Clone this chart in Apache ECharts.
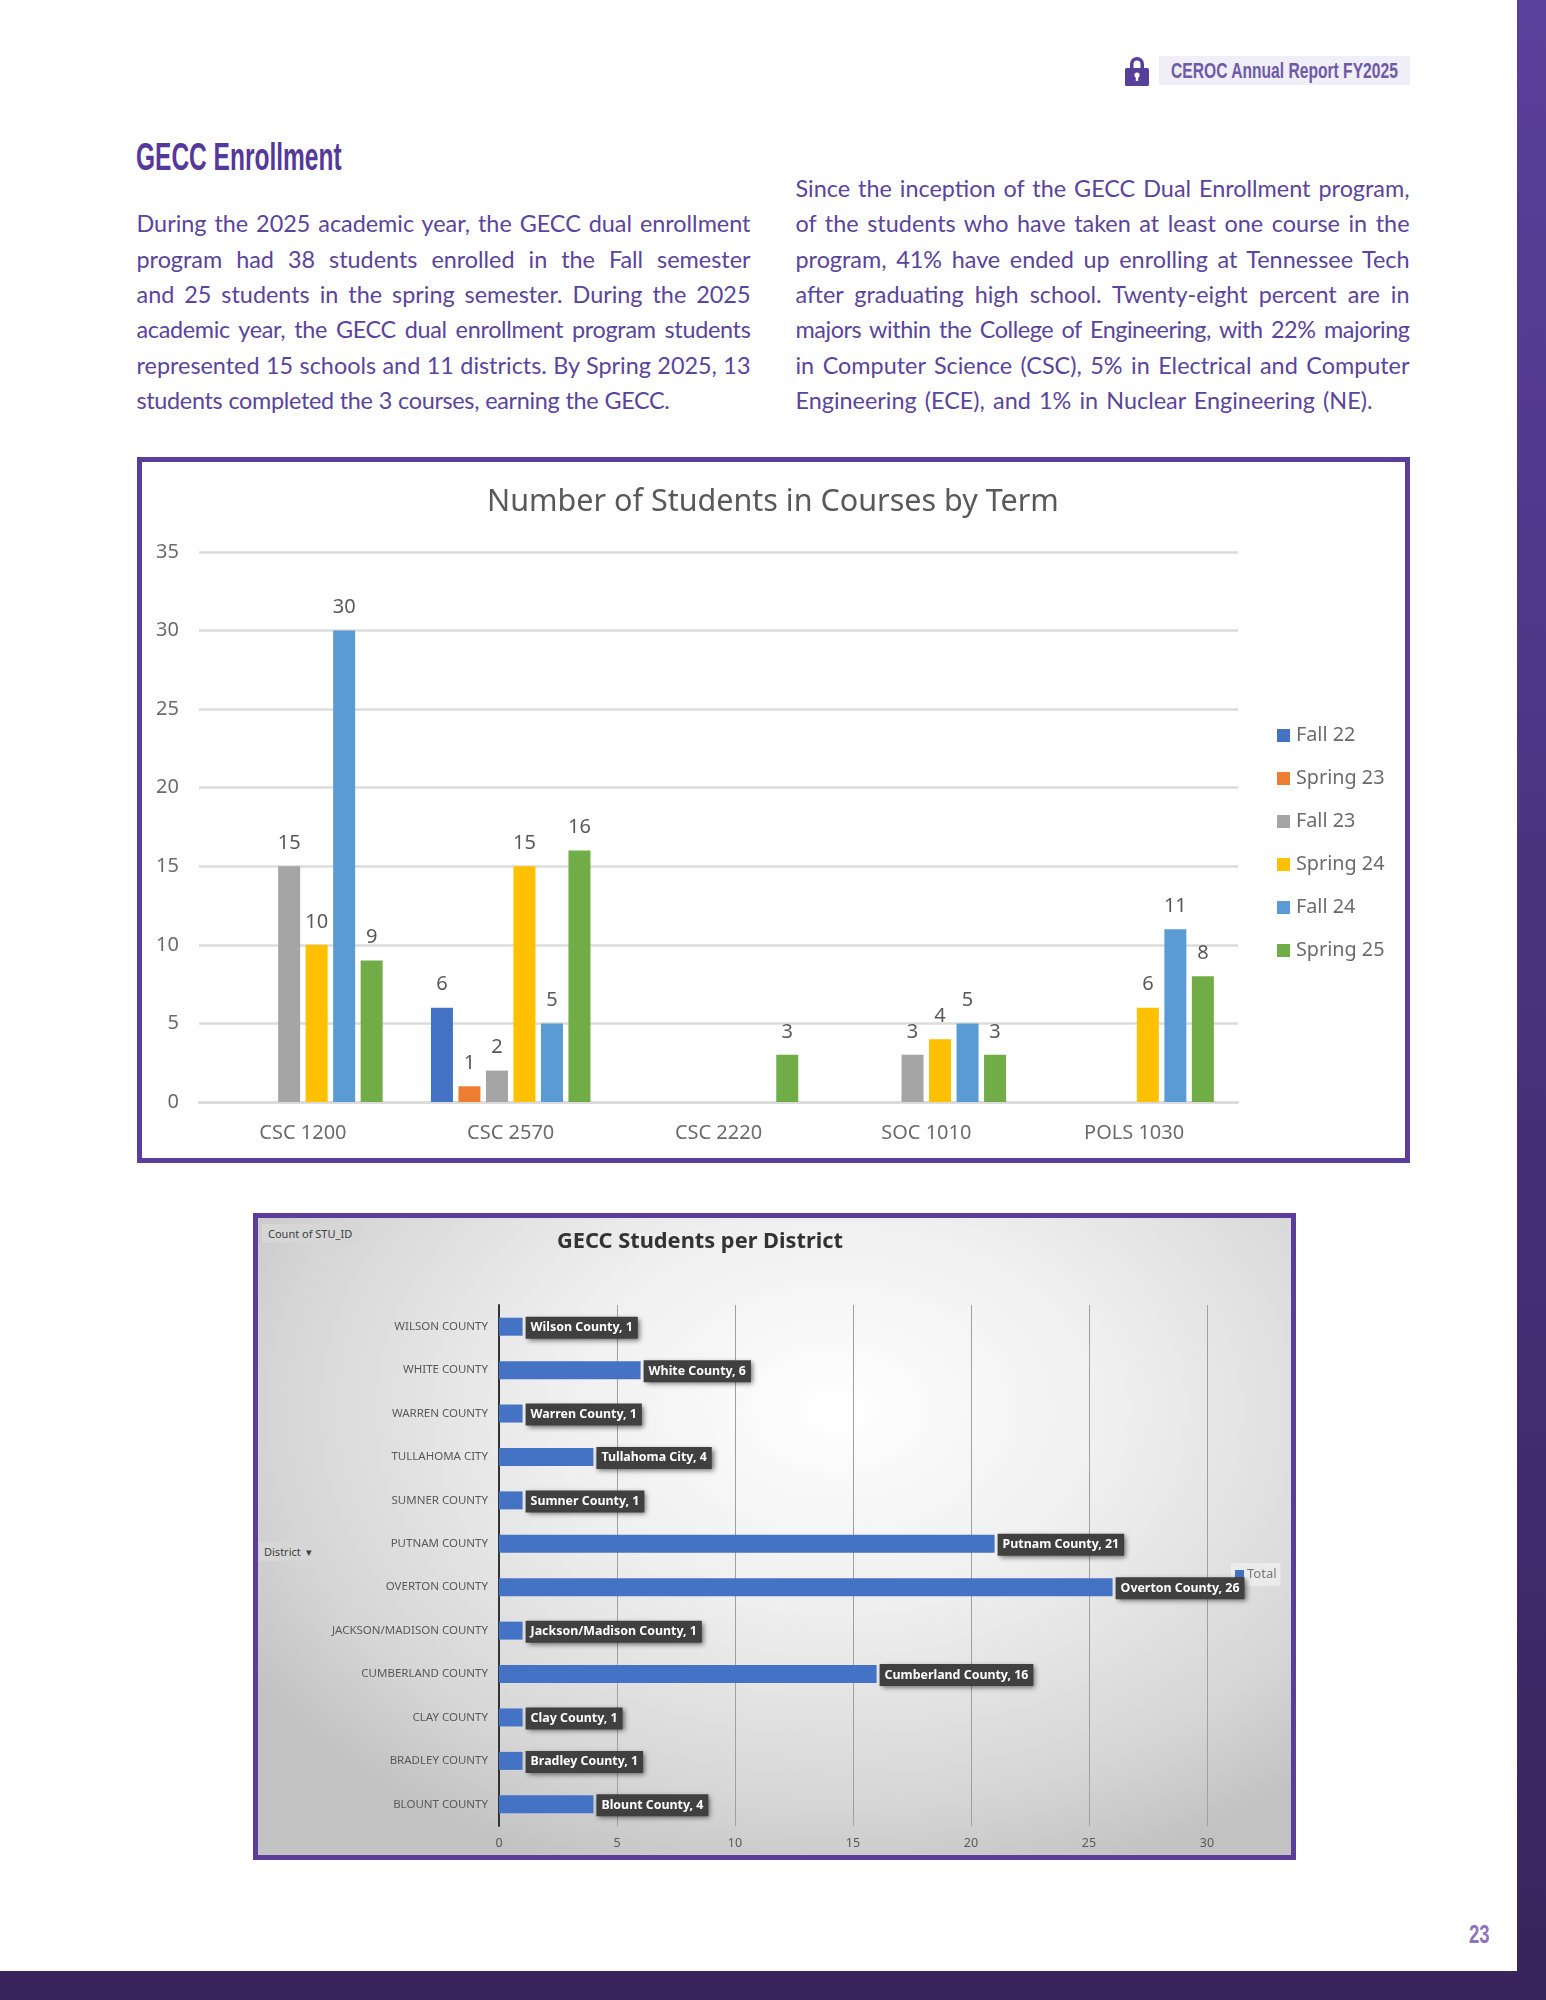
<!DOCTYPE html>
<html><head><meta charset="utf-8">
<script src="https://cdn.jsdelivr.net/npm/echarts@6/dist/echarts.min.js"></script>
<style>
html,body{margin:0;padding:0;background:#fff;}
#page{position:relative;width:1546px;height:2000px;overflow:hidden;background:#fff;color:#56409a;font-family:"Noto Sans",sans-serif;}
#page div{position:absolute;box-sizing:border-box;}
.cond{font-family:"Liberation Sans",sans-serif;font-weight:700;white-space:nowrap;transform-origin:0 50%;}
.line{font-family:Lato,sans-serif;font-size:23.4px;line-height:35.4px;height:35.4px;text-align:justify;text-align-last:justify;white-space:normal;color:#5a449c;}
#chart{position:absolute;left:0;top:0;width:1546px;height:2000px;}
.btn{font-family:"Noto Sans",sans-serif;font-size:11px;color:#404040;background:#d6d6d6;line-height:19px;}
</style></head><body>
<div id="page">
  <div style="left:1517px;top:0;width:29px;height:1971px;background:linear-gradient(180deg,#5b3f9c 0%,#39245d 100%);"></div>
  <div style="left:0;top:1971px;width:1546px;height:29px;background:#39245d;"></div>
  <svg style="position:absolute;left:1124px;top:55px" width="26" height="32" viewBox="0 0 26 32"><path d="M6 14V9a7 7 0 0 1 14 0v5h-3.5V9a3.5 3.5 0 0 0-7 0v5z" fill="#56409a"/><rect x="1" y="13" width="24" height="18" rx="1.5" fill="#56409a"/><circle cx="13" cy="20" r="2.6" fill="#fff"/><rect x="11.8" y="20" width="2.4" height="6" fill="#fff"/></svg>
  <div style="left:1159px;top:56px;width:251px;height:29px;background:#f0eef7;"></div>
  <div class="cond" style="left:1171px;top:56px;height:29px;line-height:29px;font-size:22px;color:#6f5aa8;transform:scaleX(.71);">CEROC Annual Report FY2025</div>
  <div class="cond" style="left:136px;top:135px;height:44px;line-height:44px;font-size:38px;color:#54389a;transform:scaleX(.645);">GECC Enrollment</div>
  <div class="line" style="left:136.5px;top:206px;width:614px;">During the 2025 academic year, the GECC dual enrollment</div>
  <div class="line" style="left:136.5px;top:241.5px;width:614px;">program had 38 students enrolled in the Fall semester</div>
  <div class="line" style="left:136.5px;top:277px;width:614px;">and 25 students in the spring semester. During the 2025</div>
  <div class="line" style="left:136.5px;top:312px;width:614px;letter-spacing:-.3px;">academic year, the GECC dual enrollment program students</div>
  <div class="line" style="left:136.5px;top:347.5px;width:614px;">represented 15 schools and 11 districts. By Spring 2025, 13</div>
  <div class="line" style="left:136.5px;top:383px;width:533px;letter-spacing:-.32px;">students completed the 3 courses, earning the GECC.</div>
  <div class="line" style="left:795.5px;top:171px;width:614px;">Since the inception of the GECC Dual Enrollment program,</div>
  <div class="line" style="left:795.5px;top:206px;width:614px;">of the students who have taken at least one course in the</div>
  <div class="line" style="left:795.5px;top:241.5px;width:614px;">program, 41% have ended up enrolling at Tennessee Tech</div>
  <div class="line" style="left:795.5px;top:277px;width:614px;">after graduating high school. Twenty-eight percent are in</div>
  <div class="line" style="left:795.5px;top:312px;width:614px;letter-spacing:-.45px;">majors within the College of Engineering, with 22% majoring</div>
  <div class="line" style="left:795.5px;top:347.5px;width:614px;">in Computer Science (CSC), 5% in Electrical and Computer</div>
  <div class="line" style="left:795.5px;top:383px;width:577px;">Engineering (ECE), and 1% in Nuclear Engineering (NE).</div>
  <div style="left:136.5px;top:457px;width:1273px;height:706px;border:5px solid #5b3e9a;background:#fff;"></div>
  <div style="left:253px;top:1213px;width:1043px;height:647px;border:5px solid #5b3e9a;background:radial-gradient(ellipse 68% 78% at 56% 30%,#ffffff 0%,#efefef 40%,#d6d6d6 80%,#c2c2c2 100%);"></div>
  <div class="btn" style="left:262px;top:1224px;width:99px;height:19px;padding-left:6px;">Count of STU_ID</div>
  <div class="btn" style="left:259px;top:1542px;width:62px;height:19px;padding-left:5px;">District &nbsp;▾</div>
  <div class="cond" style="left:1469px;top:1920px;height:28px;line-height:28px;font-size:25px;color:#8f74bc;transform:scaleX(.74);">23</div>
  <div id="chart"></div>
</div>
<script>
const courses = ['CSC 1200','CSC 2570','CSC 2220','SOC 1010','POLS 1030'];
const fall22 = [null,6,null,null,null];
const spring23 = [null,1,null,null,null];
const fall23 = [15,2,null,3,null];
const spring24 = [10,15,null,4,6];
const fall24 = [30,5,null,5,11];
const spring25 = [9,16,3,3,8];
const termNames = ['Fall 22','Spring 23','Fall 23','Spring 24','Fall 24','Spring 25'];
const termColors = ['#4472c4','#ed7d31','#a5a5a5','#ffc000','#5b9bd5','#70ad47'];
const districtTicks = ['WILSON COUNTY','WHITE COUNTY','WARREN COUNTY','TULLAHOMA CITY','SUMNER COUNTY','PUTNAM COUNTY','OVERTON COUNTY','JACKSON/MADISON COUNTY','CUMBERLAND COUNTY','CLAY COUNTY','BRADLEY COUNTY','BLOUNT COUNTY'];
const districtNames = ['Wilson County','White County','Warren County','Tullahoma City','Sumner County','Putnam County','Overton County','Jackson/Madison County','Cumberland County','Clay County','Bradley County','Blount County'];
const districtCounts = [1,6,1,4,1,21,26,1,16,1,1,4];

const font = '"Noto Sans",sans-serif';
const termData = [fall22,spring23,fall23,spring24,fall24,spring25];
const chart = echarts.init(document.getElementById('chart'),null,{width:1546,height:2000});
chart.setOption({
  animation:false,
  backgroundColor:'transparent',
  textStyle:{fontFamily:font},
  title:[
    {text:'Number of Students in Courses by Term',left:487,top:487,padding:0,textStyle:{fontFamily:font,fontSize:30.5,fontWeight:'normal',color:'#595959'}},
    {text:'GECC Students per District',left:557,top:1231,padding:0,textStyle:{fontFamily:font,fontSize:21.8,fontWeight:'bold',color:'#333333'}}
  ],
  legend:[
    {data:termNames,orient:'vertical',left:1277,top:722,padding:0,itemWidth:13,itemHeight:13,itemGap:16,selectedMode:false,icon:'rect',textStyle:{fontFamily:font,fontSize:19.8,color:'#6b6b6b',padding:[0,0,0,1],lineHeight:27}},
    {data:['Total'],left:1231,top:1563,padding:[5,4,5,4],itemWidth:9,itemHeight:9,itemGap:0,selectedMode:false,icon:'rect',z:1,backgroundColor:'rgba(236,236,236,0.9)',textStyle:{fontFamily:font,fontSize:13,color:'#777777',padding:[0,0,0,-2]}}
  ],
  grid:[
    {left:199,top:552,width:1039,height:550},
    {left:499,top:1305,width:708,height:521}
  ],
  xAxis:[
    {gridIndex:0,type:'category',data:courses,axisTick:{show:false},axisLine:{lineStyle:{color:'#d9d9d9',width:2.5}},axisLabel:{fontFamily:font,fontSize:20,color:'#6b6b6b',margin:21}},
    {gridIndex:1,type:'value',min:0,max:30,interval:5,axisLine:{show:false},axisTick:{show:false},splitLine:{lineStyle:{color:'#a0a0a0',width:1}},axisLabel:{fontFamily:font,fontSize:12.5,color:'#595959',margin:11}}
  ],
  yAxis:[
    {gridIndex:0,type:'value',min:0,max:35,interval:5,axisLine:{show:false},axisTick:{show:false},splitLine:{lineStyle:{color:'#dcdcdc',width:2.5}},axisLabel:{fontFamily:font,fontSize:20,color:'#6b6b6b',margin:20}},
    {gridIndex:1,type:'category',inverse:true,data:districtTicks,axisLine:{lineStyle:{color:'#333333',width:2}},axisTick:{length:3,lineStyle:{color:'#333333',width:1.5}},axisLabel:{fontFamily:font,fontSize:11.5,color:'#595959',margin:11}}
  ],
  series:termNames.map((n,i)=>({
    name:n,type:'bar',xAxisIndex:0,yAxisIndex:0,data:termData[i],barWidth:22,barGap:'25%',
    itemStyle:{color:termColors[i]},
    label:{show:true,position:'top',distance:13,fontFamily:font,fontSize:20,color:'#595959'}
  })).concat([{
    name:'Total',type:'bar',xAxisIndex:1,yAxisIndex:1,data:districtCounts,barWidth:18,z:3,
    itemStyle:{color:'#4472c4'},
    label:{show:true,position:'right',distance:3,offset:[0,1],
      formatter:p=>districtNames[p.dataIndex]+', '+p.value,
      fontFamily:font,fontSize:12.4,fontWeight:'bold',color:'#ffffff',backgroundColor:'#404040',padding:[5,5,5,5],
      shadowBlur:5,shadowColor:'rgba(0,0,0,0.55)',shadowOffsetX:2,shadowOffsetY:2}
  }])
});
</script>
</body></html>
